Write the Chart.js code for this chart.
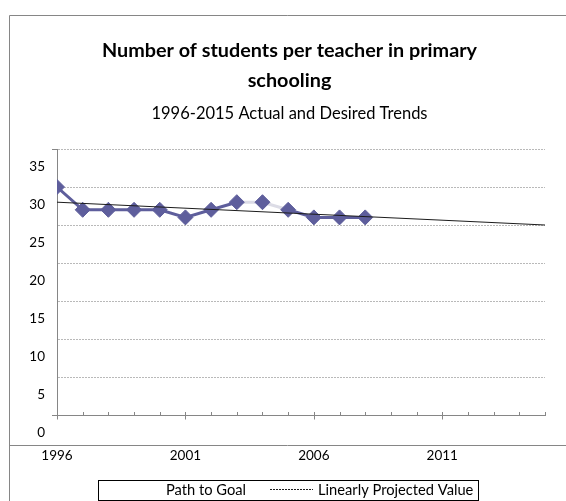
<!DOCTYPE html>
<html>
<head>
<meta charset="utf-8">
<script src="https://cdn.jsdelivr.net/npm/chart.js@4.4.1/dist/chart.umd.min.js"></script>
<style>
  html, body { margin: 0; padding: 0; background: #ffffff; }
  #wrap { width: 566px; height: 501px; }
</style>
</head>
<body>
<div id="wrap"><canvas id="c" width="566" height="501"></canvas></div>
<script>
// ---- data ----
const years = [1996, 1997, 1998, 1999, 2000, 2001, 2002, 2003, 2004, 2005, 2006, 2007, 2008];
const studentsPerTeacher = [30, 27, 27, 27, 27, 26, 27, 28, 28, 27, 26, 26, 26];
const faintSegmentStarts = [2003, 2004];
const trendYears = [1996, 2015];
const trendValues = [28.0, 25.0];
const pathToGoal = [];
const xTickYears = [1996, 2001, 2006, 2011];
const yTickValues = [0, 5, 10, 15, 20, 25, 30, 35];
const titleLines = ['Number of students per teacher in primary', 'schooling'];
const subtitleText = '1996-2015 Actual and Desired Trends';
const seriesLabels = ['Actual', 'Path to Goal', 'Linearly Projected Value'];

const FONT = 'Lato';
const AXIS_GRAY = '#868686';
const GRID_GRAY = '#b9b9b9';
const SERIES_COLOR = '#5e5e9c';

const framePlugin = {
  id: 'frame',
  beforeDraw(chart) {
    const ctx = chart.ctx;
    ctx.save();
    ctx.fillStyle = '#ffffff';
    ctx.fillRect(0, 0, chart.width, chart.height);
    ctx.strokeStyle = AXIS_GRAY;
    ctx.lineWidth = 1;
    ctx.beginPath();
    ctx.moveTo(9.5, chart.height);
    ctx.lineTo(9.5, 15.5);
    ctx.lineTo(chart.width, 15.5);
    ctx.moveTo(9, 445.5);
    ctx.lineTo(chart.width, 445.5);
    ctx.stroke();
    ctx.restore();
  }
};

const tickPlugin = {
  id: 'axisTicks',
  afterDatasetsDraw(chart) {
    const ctx = chart.ctx;
    const xs = chart.scales.x;
    const ys = chart.scales.y;
    const area = chart.chartArea;
    const yb = Math.round(area.bottom) + 0.5;
    ctx.save();
    ctx.strokeStyle = AXIS_GRAY;
    ctx.lineWidth = 1;
    ctx.beginPath();
    ctx.moveTo(area.left - 5, yb);
    ctx.lineTo(area.left, yb);
    const yt = Math.round(ys.getPixelForValue(ys.max)) + 0.5;
    ctx.moveTo(area.left - 5, yt);
    ctx.lineTo(area.left, yt);
    for (let v = xs.min; v <= xs.max; v++) {
      const px = Math.round(xs.getPixelForValue(v)) + 0.5;
      const major = xTickYears.includes(v);
      ctx.moveTo(px, yb - 3.5);
      ctx.lineTo(px, major ? yb + 4 : yb);
    }
    ctx.stroke();
    ctx.restore();
  }
};

const legendPlugin = {
  id: 'boxLegend',
  afterDraw(chart) {
    const ctx = chart.ctx;
    const ds = chart.data.datasets;
    ctx.save();
    ctx.strokeStyle = '#000000';
    ctx.lineWidth = 1;
    ctx.strokeRect(98.5, 480.5, 380, 20);
    ctx.font = '14.7px ' + FONT;
    ctx.fillStyle = '#000000';
    ctx.textBaseline = 'middle';
    ctx.textAlign = 'left';
    const goal = ds.find(d => d.label === seriesLabels[1]);
    const trend = ds.find(d => d.label === seriesLabels[2]);
    ctx.fillText(goal.label, 166, 490);
    ctx.strokeStyle = trend.borderColor;
    ctx.setLineDash([2, 1]);
    ctx.beginPath();
    ctx.moveTo(270, 489.5);
    ctx.lineTo(313, 489.5);
    ctx.stroke();
    ctx.setLineDash([]);
    ctx.fillText(trend.label, 318, 490);
    ctx.restore();
  }
};

new Chart(document.getElementById('c'), {
  type: 'line',
  data: {
    datasets: [
      {
        label: seriesLabels[2],
        data: trendYears.map((x, i) => ({ x: x, y: trendValues[i] })),
        borderColor: '#1c1c1c',
        borderWidth: 1,
        pointRadius: 0,
        order: 0
      },
      {
        label: seriesLabels[1],
        data: pathToGoal,
        borderColor: '#ffffff',
        borderWidth: 1,
        pointRadius: 0,
        order: 1
      },
      {
        label: seriesLabels[0],
        data: years.map((x, i) => ({ x: x, y: studentsPerTeacher[i] })),
        borderColor: SERIES_COLOR,
        backgroundColor: SERIES_COLOR,
        borderWidth: 3,
        pointStyle: 'rectRot',
        pointRadius: 7.5,
        pointBorderWidth: 1,
        pointBackgroundColor: SERIES_COLOR,
        pointBorderColor: SERIES_COLOR,
        segment: {
          borderColor: c => faintSegmentStarts.includes(c.p0.parsed.x) ? '#dcdce6' : undefined
        },
        order: 2
      }
    ]
  },
  options: {
    responsive: false,
    animation: false,
    devicePixelRatio: 1,
    events: [],
    layout: { padding: { left: 13, right: 0, top: 0, bottom: 0 } },
    plugins: {
      legend: { display: false },
      tooltip: { enabled: false },
      title: {
        display: true,
        text: titleLines,
        color: '#000000',
        font: { family: FONT, size: 19.8, weight: 'bold', lineHeight: '30px' },
        padding: { top: 36, bottom: 0 }
      },
      subtitle: {
        display: true,
        text: subtitleText,
        color: '#000000',
        font: { family: FONT, size: 16.5, weight: 'normal', lineHeight: '20px' },
        padding: { top: 8, bottom: 25 }
      }
    },
    scales: {
      x: {
        type: 'linear',
        min: trendYears[0],
        max: trendYears[1],
        afterBuildTicks: s => { s.ticks = xTickYears.map(v => ({ value: v })); },
        afterFit: s => { s.height = 86; },
        grid: { display: false, drawTicks: false },
        border: { display: true, color: AXIS_GRAY, width: 1 },
        ticks: {
          color: '#000000',
          font: { family: FONT, size: 13.5 },
          padding: 33,
          maxRotation: 0,
          autoSkip: false,
          callback: v => String(v)
        }
      },
      y: {
        type: 'linear',
        min: yTickValues[0],
        max: yTickValues[yTickValues.length - 1],
        afterBuildTicks: s => { s.ticks = yTickValues.map(v => ({ value: v })); },
        afterFit: s => { s.width = 44; },
        grid: {
          drawTicks: false,
          color: c => (c.tick && c.tick.value === 0) ? 'rgba(0,0,0,0)' : GRID_GRAY,
          lineWidth: 1
        },
        border: { display: true, color: AXIS_GRAY, width: 1, dash: [2, 1] },
        ticks: {
          color: '#000000',
          font: { family: FONT, size: 13.5 },
          padding: 12,
          labelOffset: 18
        }
      },
      yRight: {
        type: 'linear',
        position: 'right',
        display: true,
        afterFit: s => { s.width = 21; },
        grid: { display: false, drawTicks: false },
        border: { display: false },
        ticks: { display: false }
      }
    }
  },
  plugins: [framePlugin, tickPlugin, legendPlugin]
});
</script>
</body>
</html>
